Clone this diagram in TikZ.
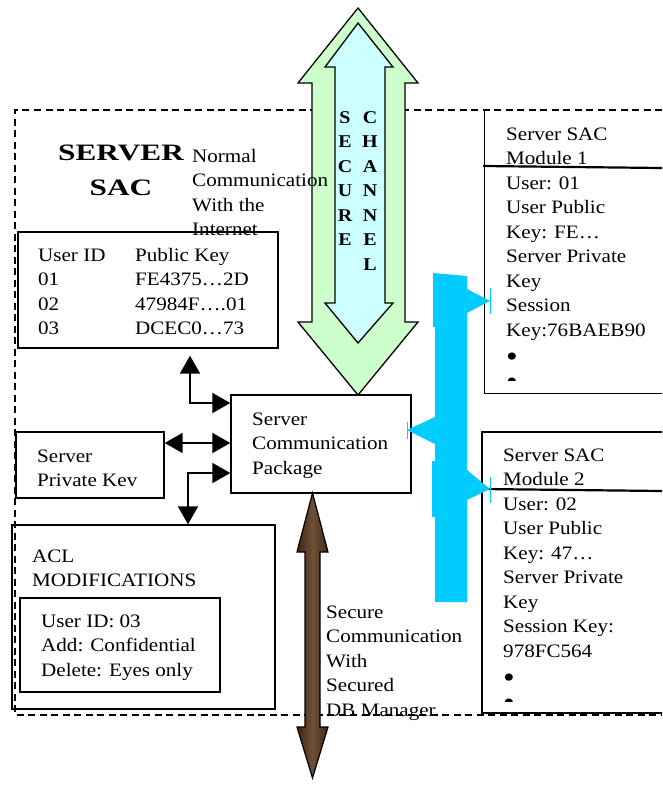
\documentclass[tikz,border=0pt]{standalone}
\usepackage{fontspec}
\setmainfont{Liberation Serif}[FakeStretch=1.11]
\newfontfamily\titlefont{Liberation Serif}[FakeStretch=1.33]
\usetikzlibrary{arrows.meta,calc}
\definecolor{chgreen}{HTML}{CCFFCC}
\definecolor{chcyan}{HTML}{CCFFFF}
\definecolor{linkcyan}{HTML}{00CCFF}
\definecolor{darkwood}{HTML}{3E2818}
\definecolor{lightwood}{HTML}{6E5038}
% a large list bullet
\newcommand{\bigdot}{\raisebox{-6pt}[0pt][0pt]{\fontsize{30}{24.5}\selectfont •}}
% multi-line text nodes are placed by the baseline of their last line
\tikzset{
  box/.style={draw, line width=1.3pt, rectangle, inner sep=0pt},
  txt/.style={anchor=base west, align=left, inner sep=0pt,
    font=\fontsize{19}{24.5}\selectfont},
  title/.style={anchor=base, align=center, inner sep=0pt,
    font=\titlefont\bfseries\fontsize{23.5}{35}\selectfont},
  vletters/.style={anchor=base, align=center, inner sep=0pt,
    font=\bfseries\fontsize{18}{24.5}\selectfont},
  conn/.style={line width=1.8pt,
    {Triangle[length=18pt,width=20pt]}-{Triangle[length=18pt,width=20pt]}},
  boundary/.style={line width=1.2pt, dash pattern=on 7pt off 4.5pt},
  tick/.style={linkcyan, line width=0.9pt},
}
\begin{document}
\begin{tikzpicture}[x=1pt,y=-1pt]
\useasboundingbox (0,0) rectangle (662,785);
\clip (0,0) rectangle (662,785);

% dashed outline of the server
\draw[boundary] (662,110) -- (15,110) -- (15,715) -- (662,715);

% secure channel: outer and inner double arrows
\draw[line width=1.3pt, fill=chgreen] (358,8) -- (418,83) -- (405,83) -- (405,322)
  -- (418,322) -- (358,395) -- (298,322) -- (312,322) -- (312,83) -- (298,83) -- cycle;
\draw[line width=1.3pt, fill=chcyan] (358,23) -- (393,67) -- (385,67) -- (385,303)
  -- (393,303) -- (358,343) -- (325,303) -- (335,303) -- (335,67) -- (325,67) -- cycle;
\node[vletters] (sec) at (345,245.5) {S\\E\\C\\U\\R\\E};
\node[vletters] (chan) at (370,270) {C\\H\\A\\N\\N\\E\\L};

% boxes
\node[box, minimum width=260, minimum height=116] (table) at (148,290) {};
\node[box, minimum width=180, minimum height=98] (comm) at (321,444) {};
\node[box, minimum width=148, minimum height=66] (pk) at (90,465) {};
\node[box, minimum width=263, minimum height=184] (acl) at (143.5,617) {};
\node[box, minimum width=200, minimum height=94] (inner) at (120,645) {};
\node[minimum width=205, minimum height=283, inner sep=0pt] (m1) at (587.5,251.5) {};
\draw[line width=1.3pt] (m1.north west) -- (m1.south west) -- (m1.south east);
\node[box, minimum width=208, minimum height=281] (m2) at (586,572.5) {};

% link to the secured database manager
\shade[left color=darkwood, right color=darkwood, middle color=lightwood]
  (312.5,493) -- (328,552) -- (320,552) -- (320,727) -- (328,727) -- (312.5,778)
  -- (297,727) -- (305,727) -- (305,552) -- (297,552) -- cycle;
\draw[line width=1.2pt]
  (312.5,493) -- (328,552) -- (320,552) -- (320,727) -- (328,727) -- (312.5,778)
  -- (297,727) -- (305,727) -- (305,552) -- (297,552) -- cycle;

% titles and labels
\node[title] (srv) at (121,195) {SERVER\\SAC};
\node[txt] (net) at (192,235.5) {Normal\\Communication\\With the\\Internet};
\node[txt] (tabid) at (38,334.5) {User ID\\01\\02\\03};
\node[txt] (tabkey) at (135,334.5) {Public Key\\FE4375…2D\\47984F….01\\DCEC0…73};
\node[txt] (commtxt) at (252,474) {Server\\Communication\\Package};
\node[txt] (pktxt) at (37,486.5) {Server\\Private Kev};
\node[txt] (acltxt) at (32,586.5) {ACL\\MODIFICATIONS};
\node[txt] (innertxt) at (41,676) {User ID: 03\\Add: Confidential\\Delete: Eyes only};
\node[txt] (dbtxt) at (326,716) {Secure\\Communication\\With\\Secured\\DB Manager};

% module contents, the last bullet cut off near the box bottom
\begin{scope}
  \clip (486,111) rectangle (662,380.5);
  \node[txt] (m1txt) at (506,385) {Server SAC\\Module 1\\User: 01\\User Public\\Key: FE…\\Server Private\\Key\\Session\\Key:76BAEB90\\\bigdot\\\bigdot};
\end{scope}
\begin{scope}
  \clip (483,433) rectangle (662,701.5);
  \node[txt] (m2txt) at (503,706) {Server SAC\\Module 2\\User: 02\\User Public\\Key: 47…\\Server Private\\Key\\Session Key:\\978FC564\\\bigdot\\\bigdot};
\end{scope}
\draw[line width=2.2pt] (483,166) -- (662,168);
\draw[line width=2.2pt] (482,489) -- (662,491);

% black connectors
\coordinate (j1) at (190,403);
\coordinate (j2) at (200,443);
\coordinate (j3) at (188,473);
\draw[conn, shorten <=7pt] (table.south -| j1) |- (comm.west |- j1);
\draw[conn] (pk.east |- j2) -- (comm.west |- j2);
\draw[conn] (acl.north -| j3) |- (comm.west |- j3);

% session link from the communication package to the modules
\fill[linkcyan] (433,273) -- (467,276) -- (467,289) -- (490,301) -- (467,313)
  -- (467,470) -- (490,489) -- (467,500) -- (467,602) -- (435,602) -- (435,517)
  -- (432,517) -- (432,461) -- (435,461) -- (435,444) -- (407,430) -- (435,417)
  -- (435,327) -- (433,327) -- cycle;
\draw[tick] (490,288) -- (490,314);
\draw[tick] (407,422) -- (407,439);
\draw[tick] (490,477) -- (490,503);
\end{tikzpicture}
\end{document}
